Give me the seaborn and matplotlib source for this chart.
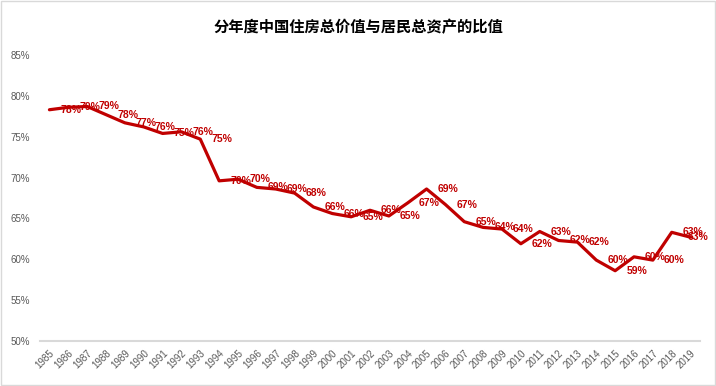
import matplotlib
matplotlib.use("Agg")
import matplotlib.pyplot as plt
import matplotlib.patches as patches
import seaborn as sns
import pandas as pd

# ratio of total housing value to household total assets, in %
years = [str(y) for y in range(1985, 2020)]
ratio = [78.3, 78.6, 78.7, 77.7, 76.7, 76.2, 75.4, 75.6, 74.7, 69.6,
         69.8, 68.8, 68.6, 68.1, 66.4, 65.6, 65.2, 66.0, 65.3, 66.9,
         68.6, 66.7, 64.6, 63.9, 63.7, 61.9, 63.4, 62.3, 62.1, 59.9,
         58.6, 60.3, 59.9, 63.3, 62.7]
y_ticks = [50, 55, 60, 65, 70, 75, 80, 85]
title = "分年度中国住房总价值与居民总资产的比值"

red = "#C00000"
grey_text = "#595959"

sns.set_style("white")
plt.rcParams['font.family'] = ['Liberation Sans', 'Noto Sans CJK SC', 'DejaVu Sans']

df = pd.DataFrame({"year": years, "ratio": ratio})

fig = plt.figure(figsize=(7.16, 3.86), dpi=100)
ax = fig.add_axes([40 / 716, 1 - 341 / 386, 660 / 716, (341 - 55) / 386])

sns.lineplot(data=df, x="year", y="ratio", color=red, linewidth=2.3, sort=False, ax=ax)

# data labels, to the right of each point (last one pulled back inside)
for i, v in enumerate(ratio):
    dx = 8 if i < len(ratio) - 1 else -2
    ax.annotate(f"{v:.0f}%", (i, v), xytext=(dx, 0), textcoords="offset points",
                ha="left", va="center", color=red, fontsize=7.5, fontweight="bold")

ax.set_xlim(-0.5, len(years) - 0.5)
ax.set_ylim(50, 85)
ax.set_yticks(y_ticks)
ax.set_yticklabels([f"{t}%" for t in y_ticks])
ax.set_xticks(range(len(years)))
ax.set_xticklabels(years, rotation=45, ha="right", rotation_mode="anchor")
ax.tick_params(axis="both", length=0, labelsize=7, labelcolor=grey_text)
ax.tick_params(axis="y", pad=7)
ax.tick_params(axis="x", pad=5)
ax.set_xlabel("")
ax.set_ylabel("")

sns.despine(ax=ax, left=True)
ax.spines["bottom"].set_color("#D9D9D9")
ax.spines["bottom"].set_linewidth(1.5)

fig.text(0.5, 1 - 27 / 386, title, ha="center", va="center", fontsize=11,
         fontweight="bold", family=["Noto Sans CJK SC", "DejaVu Sans"], color="black")

# chart border
fig.patches.append(patches.Rectangle((0.001, 0.002), 0.997, 0.995, transform=fig.transFigure,
                                     fill=False, edgecolor="#D9D9D9", linewidth=1))

plt.savefig("out.png", dpi=100)
